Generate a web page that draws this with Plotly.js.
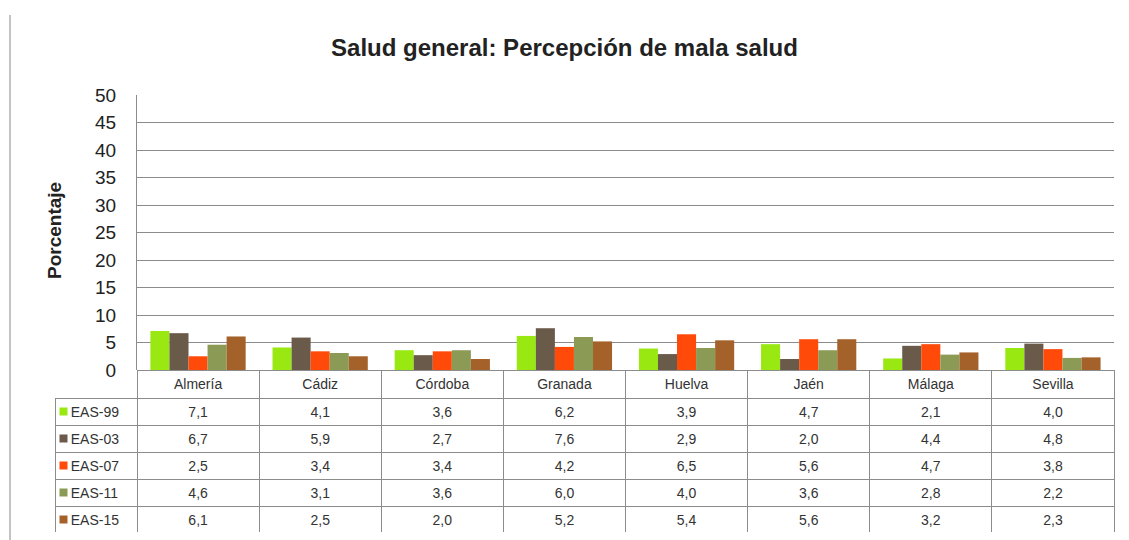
<!DOCTYPE html>
<html>
<head>
<meta charset="utf-8">
<script src="https://cdn.plot.ly/plotly-3.0.1.min.js"></script>
<style>html,body{margin:0;padding:0;background:#fff;}#chart{width:1129px;height:540px;}</style>
</head>
<body>
<div id="chart"></div>
<script>
const categories = ['Almería', 'Cádiz', 'Córdoba', 'Granada', 'Huelva', 'Jaén', 'Málaga', 'Sevilla'];
const seriesNames = ['EAS-99', 'EAS-03', 'EAS-07', 'EAS-11', 'EAS-15'];
const eas99 = [7.1, 4.1, 3.6, 6.2, 3.9, 4.7, 2.1, 4.0];
const eas03 = [6.7, 5.9, 2.7, 7.6, 2.9, 2.0, 4.4, 4.8];
const eas07 = [2.5, 3.4, 3.4, 4.2, 6.5, 5.6, 4.7, 3.8];
const eas11 = [4.6, 3.1, 3.6, 6.0, 4.0, 3.6, 2.8, 2.2];
const eas15 = [6.1, 2.5, 2.0, 5.2, 5.4, 5.6, 3.2, 2.3];
const yTicks = [0, 5, 10, 15, 20, 25, 30, 35, 40, 45, 50];

const seriesValues = [eas99, eas03, eas07, eas11, eas15];
const colors = ['#99e812', '#6a5a4a', '#ff4a0a', '#8b9a55', '#a4622a'];
const FONT = 'Liberation Sans, Arial, sans-serif';
const GRID = '#8c8c8c';
const CLEAR = 'rgba(0,0,0,0)';

const traces = seriesNames.map((name, i) => ({
  type: 'bar',
  name: name,
  x: categories,
  y: seriesValues[i],
  marker: {color: colors[i]},
  xaxis: 'x', yaxis: 'y',
  hoverinfo: 'x+y+name'
}));

// legend keys (coloured squares) in the table's first column
traces.push({
  type: 'scatter',
  mode: 'markers',
  x: seriesNames.map(() => 8.5),
  y: seriesNames,
  xaxis: 'x2', yaxis: 'y2',
  marker: {symbol: 'square', size: 8, color: colors},
  hoverinfo: 'skip'
});

const fmt = v => v.toFixed(1).replace('.', ',');
const labelCol = seriesNames.map(n => '\u00A0\u00A0' + n);
const cellCols = [labelCol].concat(categories.map((c, j) => seriesValues.map(s => fmt(s[j]))));
const headerVals = [''].concat(categories);

traces.push({
  type: 'table',
  domain: {x: [0, 1], y: [0, 0.3721]},
  columnwidth: [82].concat(categories.map(() => 122.1)),
  header: {
    values: headerVals,
    height: 28,
    align: 'center',
    fill: {color: [CLEAR].concat(categories.map(() => 'white'))},
    line: {color: [CLEAR].concat(categories.map(() => GRID)), width: 1},
    font: {family: FONT, size: 14, color: '#333'}
  },
  cells: {
    values: cellCols,
    height: 27,
    align: ['left'].concat(categories.map(() => 'center')),
    fill: {color: [CLEAR].concat(categories.map(() => 'white'))},
    line: {color: GRID, width: 1},
    font: {family: FONT, size: 14, color: '#333'}
  }
});

const layout = {
  width: 1129, height: 540,
  margin: {l: 55, r: 15, t: 95, b: 7},
  paper_bgcolor: 'white', plot_bgcolor: 'white',
  showlegend: false,
  barmode: 'group',
  bargap: 0.22,
  bargroupgap: 0,
  title: {
    text: '<b>Salud general: Percepción de mala salud</b>',
    font: {family: FONT, size: 24, color: '#222'},
    x: 0.5, xanchor: 'center', xref: 'container',
    y: 1 - 48 / 540, yanchor: 'middle', yref: 'container'
  },
  xaxis: {
    domain: [0.0774, 1],
    type: 'category',
    showticklabels: false,
    ticks: '',
    showgrid: false,
    showline: false,
    zeroline: false,
    fixedrange: true
  },
  yaxis: {
    domain: [0.3721, 1],
    range: [0, 50],
    tickvals: yTicks,
    ticktext: yTicks.map(String),
    ticks: '',
    ticklabelstandoff: 16,
    tickfont: {family: FONT, size: 19, color: '#222'},
    showgrid: true, gridcolor: GRID, gridwidth: 1,
    showline: true, linecolor: GRID, linewidth: 1,
    zeroline: true, zerolinecolor: GRID, zerolinewidth: 1,
    fixedrange: true
  },
  xaxis2: {
    domain: [0, 82 / 1059],
    range: [0, 82],
    visible: false,
    fixedrange: true,
    anchor: 'y2'
  },
  yaxis2: {
    domain: [0, 135 / 438],
    type: 'category',
    range: [4.5, -0.5],
    visible: false,
    fixedrange: true,
    anchor: 'x2'
  },
  annotations: [{
    text: '<b>Porcentaje</b>',
    textangle: -90,
    xref: 'paper', yref: 'paper',
    x: (54 - 55) / 1059, y: (533 - 231) / 438,
    xanchor: 'center', yanchor: 'middle',
    showarrow: false,
    font: {family: FONT, size: 19, color: '#222'}
  }],
  shapes: [{
    type: 'line', xref: 'paper', yref: 'paper',
    x0: (10 - 55) / 1059, x1: (10 - 55) / 1059,
    y0: (533 - 545) / 438, y1: (533 - 15) / 438,
    line: {color: '#888', width: 1}
  }]
};

Plotly.newPlot('chart', traces, layout, {displayModeBar: false, staticPlot: true});
</script>
</body>
</html>
